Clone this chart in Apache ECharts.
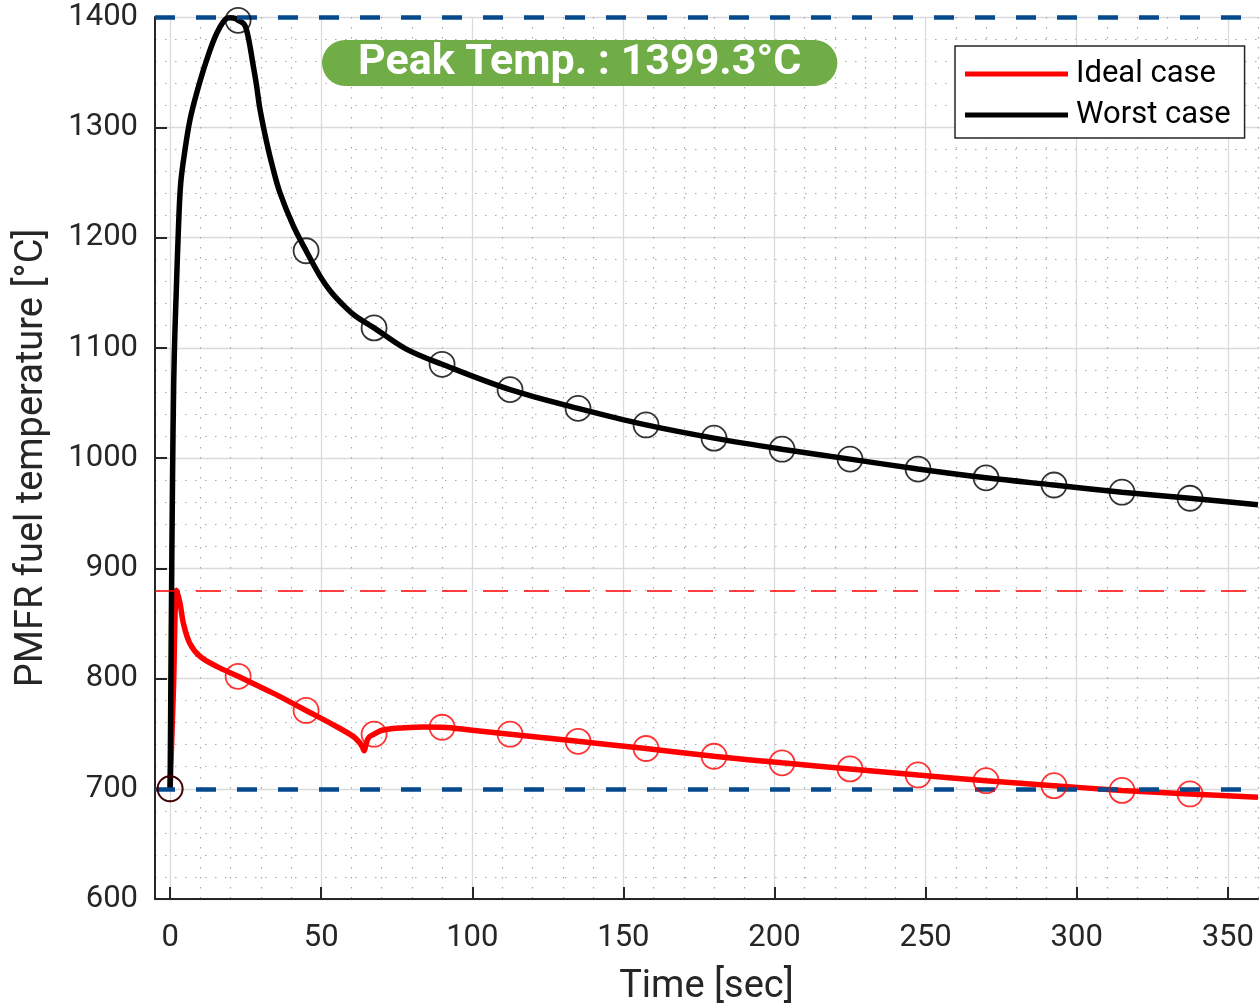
<!DOCTYPE html>
<html><head><meta charset="utf-8">
<script src="https://cdn.jsdelivr.net/npm/echarts@6/dist/echarts.min.js"></script>
<style>html,body{margin:0;padding:0;background:#fff}#c{width:1260px;height:1004px}</style>
</head><body><div id="c"></div>
<script>
// ---- data ----
const xMajorTicks = [0, 50, 100, 150, 200, 250, 300, 350];
const xMinorTicks = [10,20,30,40,60,70,80,90,110,120,130,140,160,170,180,190,210,220,230,240,260,270,280,290,310,320,330,340,360];
const markerTime = [0, 22.5, 45, 67.5, 90, 112.5, 135, 157.5, 180, 202.5, 225, 247.5, 270, 292.5, 315, 337.5];

const worstTime = [0, 0.4, 0.8, 1.2, 1.6, 2, 2.7, 3.5, 4.9, 6.6, 8.8, 12.1, 15.4, 18.7, 20, 21.5, 22.5, 24.5, 25.5, 26.4, 27.5, 28.6, 29.7, 31.9, 34.1, 36.3, 40.7, 45, 49.6, 53, 57, 61, 67.5, 78, 90, 112.5, 135, 157.5, 180, 202.5, 225, 247.5, 270, 292.5, 315, 337.5, 360];
const worstTemp = [700, 850, 980, 1070, 1115, 1148, 1204, 1249, 1279, 1307, 1331, 1361, 1385, 1398.8, 1399.3, 1398.8, 1397, 1393.6, 1386, 1374, 1356, 1338, 1317, 1287, 1262, 1241, 1211, 1188, 1165, 1151.5, 1139.5, 1129.5, 1118, 1099, 1085, 1062, 1045, 1030, 1018, 1008, 999, 990, 982, 975.5, 969, 963.5, 957.5];

const idealTime = [0, 1.1, 2.2, 3.3, 4.4, 6.5, 9.9, 15.4, 22.5, 33.1, 36.4, 45, 54, 60.6, 62.5, 63.6, 64.2, 64.8, 65.4, 66.1, 67.5, 69.5, 72, 76, 84, 90, 100, 112.5, 135, 157.5, 180, 202.5, 225, 247.5, 270, 292.5, 315, 337.5, 360];
const idealTemp = [700, 790, 880, 868, 850, 832, 820, 811, 802, 788, 783.5, 771, 758, 747.5, 742.5, 738, 734.5, 740, 745, 747.5, 749.5, 752.5, 754, 755, 756, 755.8, 753, 749.5, 743, 736.5, 729.5, 723.5, 718, 712.5, 707.3, 702.8, 698.5, 695.3, 692.2];

const refBlue = [1400, 700];
const refRed = [880];
const peakLabel = 'Peak Temp. : 1399.3°C';

// ---- build ----
const pairs = (xs, ys) => xs.map((x, i) => [x, ys[i]]);
const worstData = pairs(worstTime, worstTemp);
const idealData = pairs(idealTime, idealTemp);
const pick = d => d.filter(p => markerTime.indexOf(p[0]) >= 0);

const FONT = 'Roboto';
const TXT = '#262626';

const chart = echarts.init(document.getElementById('c'), null, {renderer: 'canvas'});
chart.setOption({
  animation: false,
  backgroundColor: '#fff',
  textStyle: {fontFamily: FONT},
  title: {
    text: peakLabel,
    left: 322, top: 40,
    padding: [0, 36],
    backgroundColor: '#70ad47',
    borderRadius: 23,
    textStyle: {color: '#fff', fontSize: 43, fontWeight: 'bold', fontFamily: FONT, lineHeight: 46}
  },
  legend: {
    data: ['Ideal case', 'Worst case'],
    orient: 'vertical',
    left: 955, top: 46,
    padding: [11, 14, 6, 10],
    icon: 'rect',
    itemWidth: 103, itemHeight: 5, itemGap: 7,
    backgroundColor: '#fff',
    borderColor: TXT, borderWidth: 1.5, borderRadius: 0,
    textStyle: {fontSize: 31, color: '#000', fontFamily: FONT, lineHeight: 34, padding: [0, 0, 0, 3]}
  },
  grid: {left: 155, right: 2, top: 17, bottom: 105, containLabel: false, outerBoundsMode: 'none'},
  xAxis: [{
    type: 'value', min: -5, max: 360, interval: 5,
    name: 'Time [sec]', nameLocation: 'middle', nameGap: 69,
    nameTextStyle: {fontSize: 38, color: TXT, fontFamily: FONT},
    axisLine: {show: true, onZero: false, lineStyle: {color: TXT, width: 2}},
    axisTick: {show: true, inside: true, length: 12, customValues: xMajorTicks, lineStyle: {color: TXT, width: 2}},
    axisLabel: {show: true, customValues: xMajorTicks, fontSize: 31, color: TXT, margin: 24, fontFamily: FONT},
    splitLine: {show: true, lineStyle: {color: '#dadada', width: 1.3}},
    z: 1
  }, {
    type: 'value', min: -5, max: 360, interval: 5, position: 'top',
    axisLine: {show: false},
    axisTick: {show: false, customValues: xMinorTicks},
    axisLabel: {show: false},
    splitLine: {show: true, lineStyle: {color: '#a8a8a8', width: 1.2, type: [1.5, 8.5]}}
  }],
  yAxis: {
    type: 'value', min: 600, max: 1400, interval: 100,
    name: 'PMFR fuel temperature [°C]', nameLocation: 'middle', nameGap: 104,
    nameTextStyle: {fontSize: 38, color: TXT, fontFamily: FONT},
    axisLine: {show: true, onZero: false, lineStyle: {color: TXT, width: 2}},
    axisTick: {show: true, inside: true, length: 12, lineStyle: {color: TXT, width: 2}},
    axisLabel: {fontSize: 31, color: TXT, margin: 17, fontFamily: FONT, formatter: v => String(v)},
    splitLine: {show: true, lineStyle: {color: '#dadada', width: 1.3}},
    minorTick: {show: false, splitNumber: 5},
    minorSplitLine: {show: true, lineStyle: {color: '#a8a8a8', width: 1.2, type: [1.5, 8.5]}}
  },
  series: [{
    name: 'Ideal case', type: 'line', data: idealData, showSymbol: false, symbol: 'none',
    smooth: 0.35, z: 3,
    lineStyle: {color: '#ff0000', width: 5.5}, itemStyle: {color: '#ff0000'}
  }, {
    name: 'Worst case', type: 'line', data: worstData, showSymbol: false, symbol: 'none',
    smooth: 0.35, z: 4,
    lineStyle: {color: '#000', width: 5.5}, itemStyle: {color: '#000'}
  }, {
    name: 'refs', type: 'line', data: [], z: 5, silent: true,
    markLine: {
      symbol: 'none', silent: true, label: {show: false},
      data: refBlue.map(v => ({yAxis: v, lineStyle: {color: '#06498c', width: 4.5, type: [20, 21]}}))
        .concat(refRed.map(v => ({yAxis: v, lineStyle: {color: '#ff0000', width: 1.5, type: [25, 16]}})))
    }
  }, {
    name: 'Ideal markers', type: 'scatter', data: pick(idealData), symbol: 'circle', symbolSize: 25, z: 6,
    itemStyle: {color: 'rgba(0,0,0,0)', borderColor: '#ff0000', borderWidth: 1.8}
  }, {
    name: 'Worst markers', type: 'scatter', data: pick(worstData), symbol: 'circle', symbolSize: 25, z: 7,
    itemStyle: {color: 'rgba(0,0,0,0)', borderColor: '#000', borderWidth: 1.8}
  }]
});
</script></body></html>
